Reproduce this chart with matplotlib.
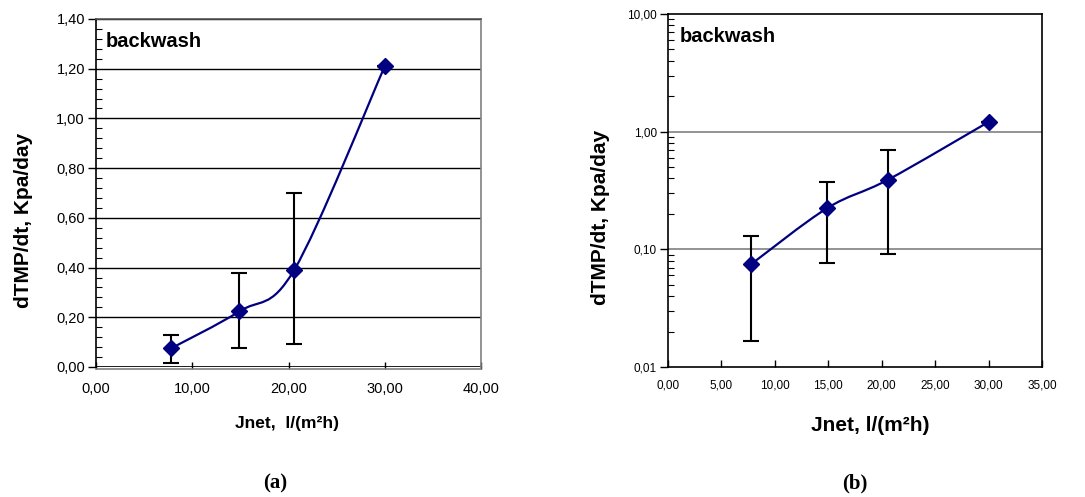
"""dTMP/dt versus net flux for the backwash runs: (a) linear scale, (b) log scale.

Excel-style smoothed line (Catmull-Rom -> cubic Bezier) through the mean values,
with min/max error bars. Decimal commas on all tick labels.
"""
import numpy as np
import matplotlib as mpl
import matplotlib.pyplot as plt
from matplotlib.path import Path
from matplotlib.patches import PathPatch
from matplotlib.ticker import FuncFormatter, MultipleLocator, LogLocator, NullFormatter

mpl.rcParams.update({
    "font.family": ["Liberation Sans", "DejaVu Sans"],
    "axes.linewidth": 1.2,
})

NAVY = "#000080"

# net flux, l/(m2 h) and fouling rate, kPa/day
jnet = [7.8, 14.9, 20.6, 30.0]
dtmp = [0.075, 0.224, 0.391, 1.21]
dtmp_lo = [0.0165, 0.076, 0.091, 1.21]
dtmp_hi = [0.130, 0.377, 0.698, 1.21]


def comma(v, _pos=None):
    return f"{v:.2f}".replace(".", ",")


def smooth_path(x, y, log=False):
    """Cubic Bezier through the points, control points from neighbours (tension 1/6)."""
    x = np.asarray(x, float)
    y = np.log10(y) if log else np.asarray(y, float)
    p = np.column_stack([x, y])
    ext = np.vstack([p[0], p, p[-1]])
    verts, codes = [p[0]], [Path.MOVETO]
    for i in range(len(p) - 1):
        c1 = ext[i + 1] + (ext[i + 2] - ext[i]) / 6.0
        c2 = ext[i + 2] - (ext[i + 3] - ext[i + 1]) / 6.0
        verts += [c1, c2, ext[i + 2]]
        codes += [Path.CURVE4] * 3
    verts = np.array(verts)
    if log:
        verts[:, 1] = 10 ** verts[:, 1]
    return Path(verts, codes)


def draw_series(ax, log=False):
    y = np.array(dtmp)
    yerr = [y - np.array(dtmp_lo), np.array(dtmp_hi) - y]
    ax.add_patch(PathPatch(smooth_path(jnet, dtmp, log), fill=False,
                           edgecolor=NAVY, lw=1.6, zorder=3))
    ax.errorbar(jnet, dtmp, yerr=yerr, fmt="none", ecolor="black",
                elinewidth=1.5, capsize=5.5, capthick=1.5, zorder=2)
    ax.plot(jnet, dtmp, ls="none", marker="D", ms=8.5, color=NAVY,
            mec=NAVY, zorder=4)


fig = plt.figure(figsize=(10.85, 4.97), dpi=100)
W, H = 1085.0, 497.0

# ---- (a) linear scale ----
ax = fig.add_axes([96 / W, 1 - 367 / H, (481 - 96) / W, (367 - 19) / H])
draw_series(ax)
ax.set_xlim(0, 40)
ax.set_ylim(0, 1.40)
ax.xaxis.set_major_locator(MultipleLocator(10))
ax.yaxis.set_major_locator(MultipleLocator(0.2))
ax.yaxis.set_minor_locator(MultipleLocator(0.04))
ax.xaxis.set_major_formatter(FuncFormatter(comma))
ax.yaxis.set_major_formatter(FuncFormatter(comma))
ax.grid(True, axis="y", which="major", color="black", lw=1.0, zorder=0)
ax.tick_params(axis="y", which="major", direction="out", length=6, width=1.0,
               labelsize=10.5, pad=2)
ax.tick_params(axis="y", which="minor", direction="in", length=4, width=0.8)
ax.tick_params(axis="x", which="major", direction="in", length=5, width=1.0,
               labelsize=10.5, pad=9)
ax.spines["top"].set_color("#555555")
ax.spines["right"].set_color("#808080")
ax.spines["bottom"].set_color("#808080")
ax.spines["bottom"].set_position(("outward", 1.5))
ax.axhline(0, color="black", lw=1.2, zorder=1)
ax.set_ylabel("dTMP/dt, Kpa/day", fontsize=15, fontweight="bold")
ax.yaxis.set_label_coords(-0.164, 0.42)
ax.text(0.496, -0.162, "Jnet,  l/(m²h)", transform=ax.transAxes, ha="center",
        va="center", fontsize=12.5, fontweight="bold")
ax.text(0.026, 0.935, "backwash", transform=ax.transAxes, ha="left",
        va="center", fontsize=14.5, fontweight="bold")

# ---- (b) log scale ----
bx = fig.add_axes([668 / W, 1 - 367 / H, (1042 - 668) / W, (367 - 14) / H])
draw_series(bx, log=True)
bx.set_yscale("log")
bx.set_xlim(0, 35)
bx.set_ylim(0.01, 10)
bx.xaxis.set_major_locator(MultipleLocator(5))
bx.set_yticks([0.01, 0.1, 1, 10])
bx.yaxis.set_minor_locator(LogLocator(base=10, subs=np.arange(2, 10)))
bx.yaxis.set_minor_formatter(NullFormatter())
bx.xaxis.set_major_formatter(FuncFormatter(comma))
bx.yaxis.set_major_formatter(FuncFormatter(comma))
for level in (0.1, 1):
    bx.axhline(level, color="#808080", lw=1.2, zorder=0)
bx.tick_params(axis="y", which="major", direction="out", length=6, width=1.0,
               labelsize=8.5, pad=2)
bx.tick_params(axis="y", which="minor", direction="in", length=4, width=0.8)
bx.tick_params(axis="x", which="major", direction="in", length=5, width=1.0,
               labelsize=8.5, pad=9)
bx.set_ylabel("dTMP/dt, Kpa/day", fontsize=15, fontweight="bold")
bx.yaxis.set_label_coords(-0.155, 0.425)
bx.text(0.54, -0.165, "Jnet, l/(m²h)", transform=bx.transAxes, ha="center",
        va="center", fontsize=15, fontweight="bold")
bx.text(0.03, 0.935, "backwash", transform=bx.transAxes, ha="left",
        va="center", fontsize=14.5, fontweight="bold")

# panel captions
for xc, lab in ((275, "(a)"), (855, "(b)")):
    fig.text(xc / W, 1 - 483 / H, lab, ha="center", va="center", fontsize=15,
             fontweight="bold", family=["Liberation Serif", "DejaVu Serif"])

fig.savefig("out.png", dpi=100)
